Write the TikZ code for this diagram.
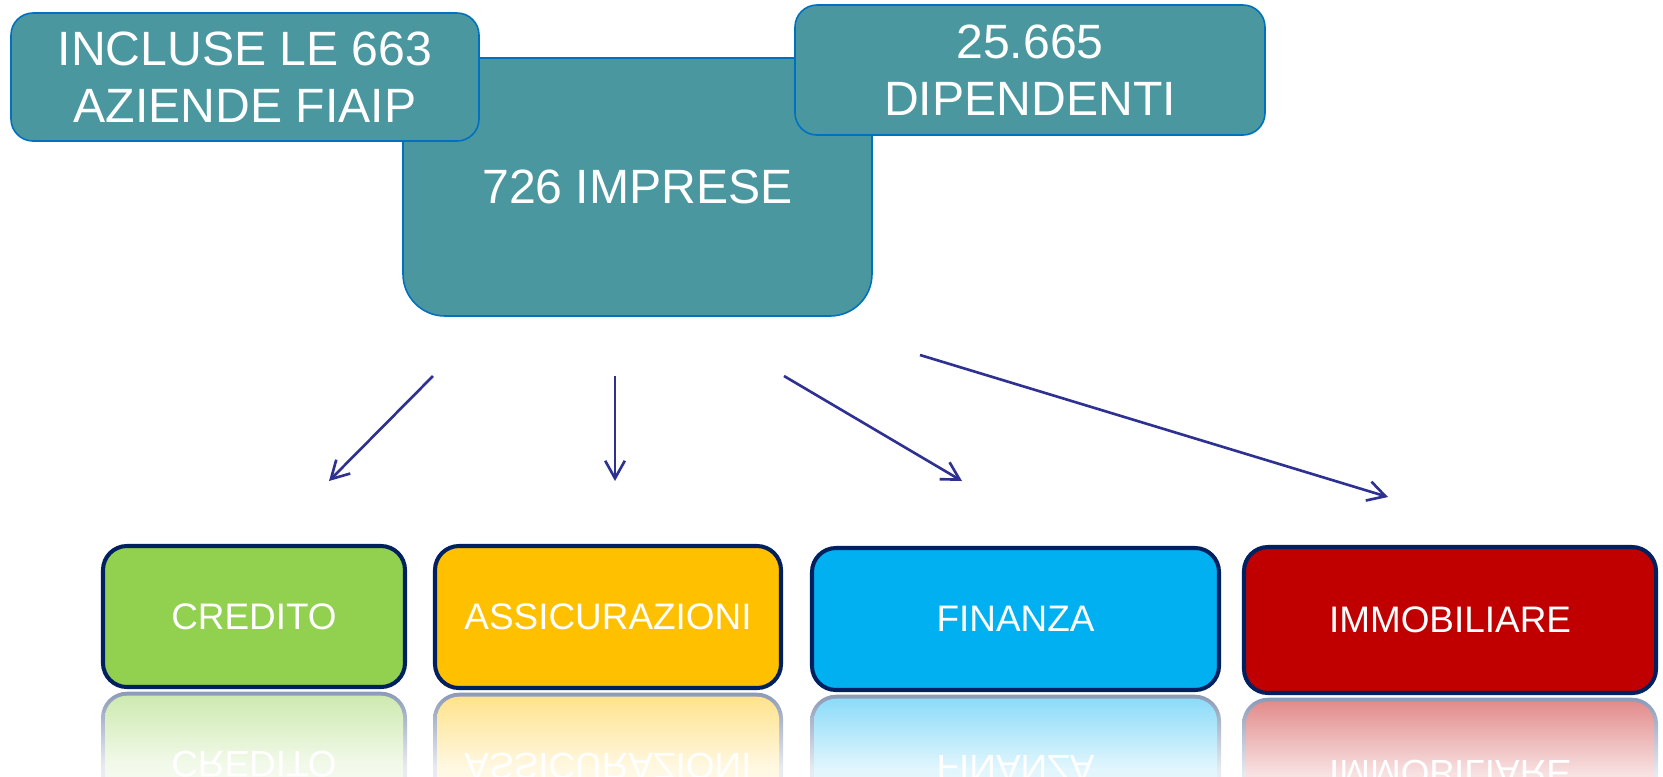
\documentclass[tikz,border=0pt]{standalone}
\usepackage{fontspec}
\setmainfont{Liberation Sans}
\usetikzlibrary{positioning,arrows.meta}

\definecolor{tealbox}{HTML}{4A979F}
\definecolor{tealline}{HTML}{0070C0}
\definecolor{navyline}{HTML}{002060}
\definecolor{arrowblue}{HTML}{2E3192}
\definecolor{creditogreen}{HTML}{92D050}
\definecolor{assicorange}{HTML}{FFC000}
\definecolor{finanzablue}{HTML}{00B0F0}
\definecolor{immobred}{HTML}{C00000}

\tikzset{
	topbox/.style={draw=tealline, line width=0.45pt, fill=tealbox, rounded corners=0.22cm, inner sep=0pt, text=white, align=center, font=\fontsize{13.7}{16.2}\selectfont},
	sectorbox/.style={draw=navyline, line width=1.15pt, rounded corners=0.24cm, inner sep=0pt, text=white, font=\fontsize{10.5}{12.6}\selectfont},
	mirrorouter/.style={rounded corners=0.26cm, inner sep=0pt, top color=navyline!45!white, bottom color=white, middle color=navyline!10!white},
	mirrorinner/.style={rounded corners=0.22cm, inner sep=0pt, text=white, font=\fontsize{10.5}{12.6}\selectfont, top color=#1!45!white, bottom color=white, middle color=#1!12!white},
	pointer/.style={->, draw=arrowblue, line width=0.75pt}
}

\begin{document}
\begin{tikzpicture}[>={Straight Barb[length=5pt,width=5.6pt]}]
			\useasboundingbox (0, 0) rectangle (16.63, -7.76);
			\node[topbox, minimum width=4.69cm, minimum height=2.58cm, rounded corners=0.42cm] (imprese) at (6.375, -1.87) {726 IMPRESE};
			\node[topbox, minimum width=4.68cm, minimum height=1.28cm] (incluse) at (2.45, -0.77) {INCLUSE LE 663\\AZIENDE FIAIP};
			\node[topbox, minimum width=4.70cm, minimum height=1.30cm] (dipendenti) at (10.30, -0.70) {25.665\\DIPENDENTI};
			\coordinate (from1) at (4.33, -3.76);
			\coordinate (to1) at (3.29, -4.81);
			\coordinate (from2) at (6.15, -3.76);
			\coordinate (to2) at (6.15, -4.81);
			\coordinate (from3) at (7.84, -3.76);
			\coordinate (to3) at (9.62, -4.81);
			\coordinate (from4) at (9.20, -3.55);
			\coordinate (to4) at (13.88, -4.97);
			\draw[pointer] (from1) -- (to1);
			\draw[pointer] (from2) -- (to2);
			\draw[pointer] (from3) -- (to3);
			\draw[pointer] (from4) -- (to4);
			\node[sectorbox, fill=creditogreen, minimum width=3.02cm, minimum height=1.41cm] (credito) at (2.54, -6.165) {CREDITO};
			\node[sectorbox, fill=assicorange, minimum width=3.46cm, minimum height=1.42cm] (assicurazioni) at (6.08, -6.17) {ASSICURAZIONI};
			\node[sectorbox, fill=finanzablue, minimum width=4.07cm, minimum height=1.42cm] (finanza) at (10.155, -6.19) {FINANZA};
			\node[sectorbox, fill=immobred, minimum width=4.12cm, minimum height=1.46cm] (immobiliare) at (14.50, -6.20) {IMMOBILIARE};
			\node[mirrorouter, minimum width=3.06cm, minimum height=1.45cm, below=0.02cm of credito] (creditomirror) {};
			\node[mirrorinner=creditogreen, minimum width=2.98cm, minimum height=1.37cm] (creditoglow) at (creditomirror) {\scalebox{1}[-1]{CREDITO}};
			\node[mirrorouter, minimum width=3.50cm, minimum height=1.46cm, below=0.02cm of assicurazioni] (assicurazionimirror) {};
			\node[mirrorinner=assicorange, minimum width=3.42cm, minimum height=1.38cm] (assicurazioniglow) at (assicurazionimirror) {\scalebox{1}[-1]{ASSICURAZIONI}};
			\node[mirrorouter, minimum width=4.11cm, minimum height=1.46cm, below=0.02cm of finanza] (finanzamirror) {};
			\node[mirrorinner=finanzablue, minimum width=4.03cm, minimum height=1.38cm] (finanzaglow) at (finanzamirror) {\scalebox{1}[-1]{FINANZA}};
			\node[mirrorouter, minimum width=4.16cm, minimum height=1.50cm, below=0.02cm of immobiliare] (immobiliaremirror) {};
			\node[mirrorinner=immobred, minimum width=4.08cm, minimum height=1.42cm] (immobiliareglow) at (immobiliaremirror) {\scalebox{1}[-1]{IMMOBILIARE}};
\end{tikzpicture}
\end{document}
